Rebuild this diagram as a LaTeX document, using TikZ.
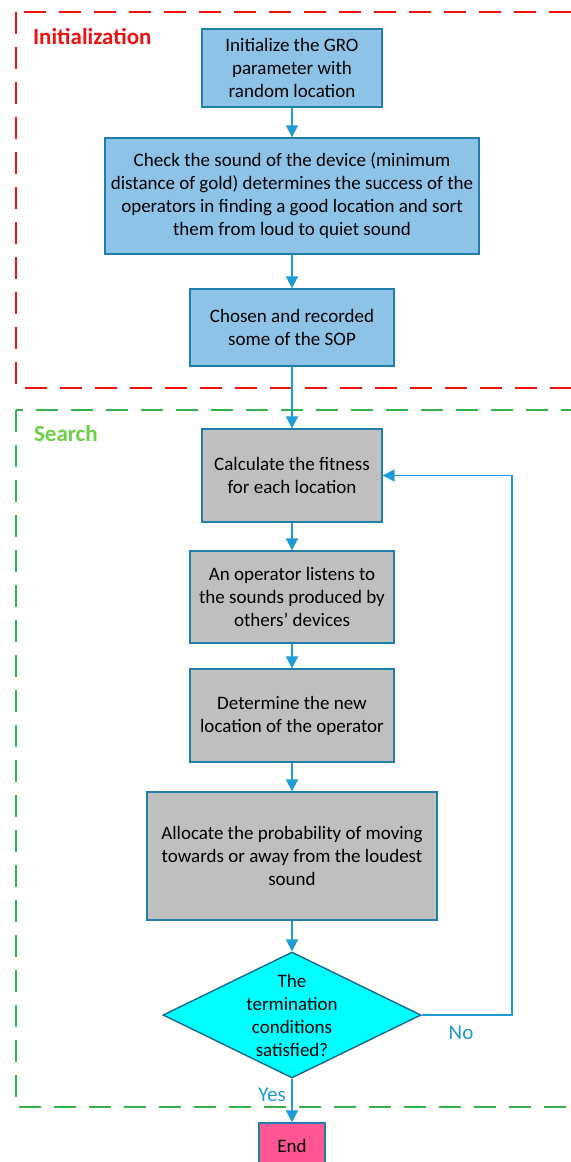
\documentclass[tikz,border=0pt]{standalone}
\usepackage{fontspec}
\setmainfont{Carlito}
\usetikzlibrary{arrows.meta,positioning,shapes.geometric}

\definecolor{boxblue}{HTML}{8DC3E6}
\definecolor{boxgray}{HTML}{BFBFBF}
\definecolor{edgeblue}{HTML}{1F7FAA}
\definecolor{flowblue}{HTML}{1E9AD6}
\definecolor{endpink}{HTML}{FF5592}
\definecolor{decfill}{HTML}{00FFFF}
\definecolor{initred}{HTML}{EE1111}
\definecolor{searchgreen}{HTML}{33B24A}
\definecolor{labelgreen}{HTML}{6CCF45}

\begin{document}
\begin{tikzpicture}[
    x=0.5pt, y=-0.5pt,
    font=\fontsize{9.5}{11.5}\selectfont,
    initbox/.style={rectangle, draw=edgeblue, fill=boxblue, line width=0.7pt, align=center, inner sep=1pt},
    stepbox/.style={initbox, fill=boxgray},
    decision/.style={diamond, draw=edgeblue!80!black, fill=decfill, line width=0.7pt, minimum width=129pt, minimum height=63pt, inner sep=0pt},
    flow/.style={-{Triangle[length=6pt,width=6pt]}, draw=flowblue, line width=0.9pt},
    region/.style={dash pattern=on 11pt off 6.5pt, line width=0.6pt},
    phase/.style={anchor=west, font=\fontsize{11.5}{13}\selectfont\bfseries},
    answer/.style={text=flowblue, font=\fontsize{10.5}{12}\selectfont}
]
\useasboundingbox (0,0) rectangle (571,1162);

\draw[region, initred] (16,12) rectangle (600,388);
\draw[region, searchgreen] (16,410) rectangle (600,1107);
\node[phase, text=initred] (initlbl) at (26,36) {Initialization};
\node[phase, text=labelgreen] (searchlbl) at (27,434) {Search};

\node[initbox, minimum width=90pt, minimum height=39pt] (init) at (292,68)
    {Initialize the GRO\\parameter with\\random location};
\node[initbox, minimum width=187pt, minimum height=58pt] (sound) at (292,196)
    {Check the sound of the device (minimum\\distance of gold) determines the success of the\\operators in finding a good location and sort\\them from loud to quiet sound};
\node[initbox, minimum width=102pt, minimum height=38.5pt] (chosen) at (292,327.5)
    {Chosen and recorded\\some of the SOP};

\node[stepbox, minimum width=90pt, minimum height=46.5pt] (fitness) at (292,475.5)
    {Calculate the fitness\\for each location};
\node[stepbox, minimum width=102pt, minimum height=46pt] (listen) at (292,597)
    {An operator listens to\\the sounds produced by\\others’ devices};
\node[stepbox, minimum width=102pt, minimum height=46.5pt] (newloc) at (292,715.5)
    {Determine the new\\location of the operator};
\node[stepbox, minimum width=145pt, minimum height=64pt] (prob) at (292,856)
    {Allocate the probability of moving\\towards or away from the loudest\\sound};
\node[decision] (stop) at (292,1015) {};
\node[align=center] (stoptext) at (stop.center) {The\\termination\\conditions\\satisfied?};
\node[initbox, fill=endpink, minimum width=33pt, minimum height=23pt] (finish) at (292,1146) {End};

\foreach \a/\b in {init/sound,sound/chosen,chosen/fitness,fitness/listen,listen/newloc,newloc/prob,prob/stop,stop/finish}
    \draw[flow] (\a) -- (\b);

\coordinate (loop) at (512,1015);
\draw[flow] (stop.east) -- (loop) |- (fitness.east);
\node[answer] (no) at (461,1033) {No};
\node[answer] (yes) at (272,1095) {Yes};

\end{tikzpicture}
\end{document}
